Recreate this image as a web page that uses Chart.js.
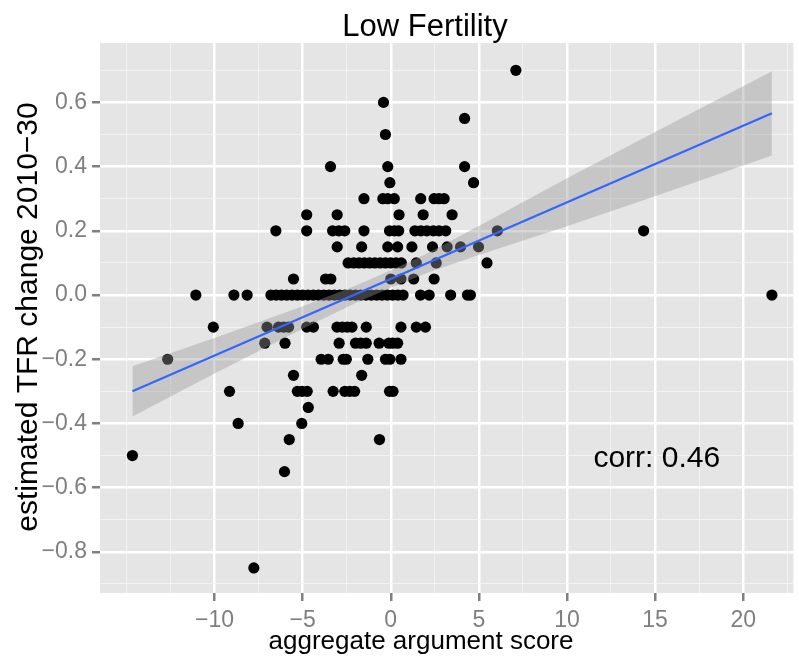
<!DOCTYPE html>
<html>
<head>
  <title>Low Fertility</title>
  <script src="https://cdn.jsdelivr.net/npm/chart.js"></script>
  <style>
    html, body { margin: 0; padding: 0; background: #fff; }
  </style>
</head>
<body>
<canvas id="myChart" width="799" height="657"></canvas>
<script>
// text
const chartTitle = 'Low Fertility';
const xTitle = 'aggregate argument score';
const yTitle = 'estimated TFR change 2010\u221230';
const corrText = 'corr: 0.46';
const corrPos = { x: 11.5, y: -0.536 };

// scatter: each row is one TFR change value, with the argument scores seen at it
const rowValues = [0.7, 0.6, 0.55, 0.5, 0.4, 0.35, 0.3, 0.25, 0.2, 0.15, 0.1, 0.05, 0,
  -0.1, -0.15, -0.2, -0.25, -0.3, -0.35, -0.4, -0.45, -0.5, -0.55, -0.85];
const rowScores = [
  [7.1],
  [-0.41],
  [4.19],
  [-0.3],
  [-3.42, -0.17, 4.19],
  [-0.05, 4.7],
  [-1.52, -0.45, -0.17, 0.2, 1.7, 2.46, 2.74, 3.03],
  [-4.77, -3.04, 0.47, 1.84, 3.48],
  [-6.52, -4.77, -3.3, -2.95, -2.61, -1.52, -0.07, 0.21, 0.45, 1.37, 1.71, 2.05, 2.42, 2.74, 3.12, 6.05, 14.35],
  [-3.04, -1.65, -0.17, 0.39, 1.2, 2.37, 3.2, 3.96, 4.98],
  [-2.42, -2.1, -1.8, -1.5, -1.2, -0.9, -0.6, -0.3, 0.0, 0.3, 0.6, 1.45, 2.58, 5.46],
  [-5.52, -3.7, -3.4, 0.0, 0.58, 1.3, 2.46],
  [-11.06, -8.9, -8.15, -6.8, -6.5, -6.2, -5.9, -5.6, -5.3, -5.0, -4.7, -4.4, -4.1, -3.8, -3.5,
   -3.2, -2.9, -2.6, -2.3, -2.0, -1.7, -1.4, -1.1, -0.8, -0.5, -0.2, 0.1, 0.4, 0.7,
   1.69, 2.18, 3.4, 4.35, 4.52, 21.63],
  [-10.07, -7.02, -6.37, -6.08, -5.8, -4.77, -4.39, -3.05, -2.75, -2.47, -2.2, -1.39, 0.58, 1.45, 1.97],
  [-7.15, -6.0, -2.93, -2.0, -1.7, -1.39, -0.66, -0.11, 0.11, 0.39],
  [-12.66, -3.95, -3.55, -2.7, -2.52, -1.3, -0.3, -0.05, 0.58],
  [-5.52, -1.65],
  [-9.15, -5.3, -5.03, -4.74, -3.27, -2.61, -2.33, -2.05, -0.07, 0.13],
  [-4.68],
  [-8.66, -5.05],
  [-5.76, -0.64],
  [-14.66],
  [-6.03],
  [-7.77]
];

// linear fit and its confidence band
const fitX = [-14.66, 21.63];
const fitY = [-0.30, 0.566];
const bandX = [-14.66, -10, -5, -2, 0, 2, 5, 10, 15, 21.63];
const bandUpper = [-0.222, -0.134, -0.035, 0.029, 0.077, 0.128, 0.215, 0.364, 0.508, 0.697];
const bandLower = [-0.378, -0.244, -0.105, -0.025, 0.023, 0.068, 0.125, 0.214, 0.308, 0.435];

// axes
const xGrid = [-15, -12.5, -10, -7.5, -5, -2.5, 0, 2.5, 5, 7.5, 10, 12.5, 15, 17.5, 20, 22.5];
const xMajor = [-10, -5, 0, 5, 10, 15, 20];
const xTickLabels = ['\u221210', '\u22125', '0', '5', '10', '15', '20'];
const yGrid = [-0.9, -0.8, -0.7, -0.6, -0.5, -0.4, -0.3, -0.2, -0.1, 0, 0.1, 0.2, 0.3, 0.4, 0.5, 0.6, 0.7];
const yMajor = [-0.8, -0.6, -0.4, -0.2, 0, 0.2, 0.4, 0.6];
const yTickLabels = ['\u22120.8', '\u22120.6', '\u22120.4', '\u22120.2', '0.0', '0.2', '0.4', '0.6'];

const points = [];
rowValues.forEach((v, i) => rowScores[i].forEach(s => points.push({ x: s, y: v })));
const fitData = fitX.map((x, i) => ({ x: x, y: fitY[i] }));
const upperData = bandX.map((x, i) => ({ x: x, y: bandUpper[i] }));
const lowerData = bandX.map((x, i) => ({ x: x, y: bandLower[i] }));

const majorIndex = (list, v) => list.findIndex(m => Math.abs(m - v) < 1e-6);
const FONT = '"Liberation Sans", Arial, sans-serif';

const panelPlugin = {
  id: 'panel',
  beforeDraw(chart) {
    const { ctx, chartArea: a } = chart;
    ctx.save();
    ctx.fillStyle = '#E5E5E5';
    ctx.fillRect(a.left, a.top, a.right - a.left, a.bottom - a.top);
    ctx.restore();
  },
  afterDraw(chart) {
    const ctx = chart.ctx;
    ctx.save();
    ctx.fillStyle = '#000';
    ctx.textBaseline = 'alphabetic';
    ctx.textAlign = 'center';
    ctx.font = '31px ' + FONT;
    ctx.fillText(chartTitle, 425, 36);
    ctx.font = '26px ' + FONT;
    ctx.fillText(xTitle, 421, 649);
    ctx.save();
    ctx.translate(37, 317);
    ctx.rotate(-Math.PI / 2);
    ctx.font = '30px ' + FONT;
    ctx.fillText(yTitle, 0, 0);
    ctx.restore();
    ctx.textAlign = 'left';
    ctx.font = '30px ' + FONT;
    ctx.fillText(corrText, chart.scales.x.getPixelForValue(corrPos.x), chart.scales.y.getPixelForValue(corrPos.y));
    ctx.restore();
  }
};

const ctx = document.getElementById('myChart').getContext('2d');
const myChart = new Chart(ctx, {
  type: 'scatter',
  data: {
    datasets: [
      { label: 'fit', data: fitData, showLine: true, borderColor: '#3366FF', borderWidth: 2.2,
        pointRadius: 0, fill: false, order: 0 },
      { label: 'upper', data: upperData, showLine: true, borderColor: 'rgba(0,0,0,0)', borderWidth: 0,
        pointRadius: 0, fill: '+1', backgroundColor: 'rgba(153,153,153,0.4)', order: 1 },
      { label: 'lower', data: lowerData, showLine: true, borderColor: 'rgba(0,0,0,0)', borderWidth: 0,
        pointRadius: 0, fill: false, order: 2 },
      { label: 'points', data: points, pointRadius: 5.6, backgroundColor: '#000', borderWidth: 0,
        pointHoverRadius: 5.6, order: 3 }
    ]
  },
  options: {
    responsive: false,
    animation: false,
    devicePixelRatio: 1,
    layout: { padding: { left: 0, right: 0, top: 43, bottom: 0 } },
    plugins: { legend: { display: false }, tooltip: { enabled: false }, title: { display: false } },
    scales: {
      x: {
        type: 'linear',
        min: -16.5,
        max: 22.85,
        afterBuildTicks: s => { s.ticks = xGrid.map(v => ({ value: v })); },
        afterFit: s => { s.height = 64; },
        border: { display: false },
        grid: {
          color: c => majorIndex(xMajor, c.tick.value) >= 0 ? '#FFFFFF' : '#F2F2F2',
          lineWidth: c => majorIndex(xMajor, c.tick.value) >= 0 ? 2.5 : 1.1,
          tickColor: c => majorIndex(xMajor, c.tick.value) >= 0 ? '#7F7F7F' : 'rgba(0,0,0,0)',
          tickWidth: 2.5,
          tickLength: 8
        },
        ticks: {
          autoSkip: false,
          maxRotation: 0,
          padding: 6,
          color: '#7F7F7F',
          font: { size: 23, family: FONT },
          callback: v => { const i = majorIndex(xMajor, v); return i >= 0 ? xTickLabels[i] : ''; }
        }
      },
      y: {
        type: 'linear',
        min: -0.928,
        max: 0.785,
        afterBuildTicks: s => { s.ticks = yGrid.map(v => ({ value: v })); },
        afterFit: s => { s.width = 100; },
        border: { display: false },
        grid: {
          color: c => majorIndex(yMajor, c.tick.value) >= 0 ? '#FFFFFF' : '#F2F2F2',
          lineWidth: c => majorIndex(yMajor, c.tick.value) >= 0 ? 2.5 : 1.1,
          tickColor: c => majorIndex(yMajor, c.tick.value) >= 0 ? '#7F7F7F' : 'rgba(0,0,0,0)',
          tickWidth: 2.5,
          tickLength: 8
        },
        ticks: {
          autoSkip: false,
          padding: 5,
          color: '#7F7F7F',
          font: { size: 23, family: FONT },
          callback: v => { const i = majorIndex(yMajor, v); return i >= 0 ? yTickLabels[i] : ''; }
        }
      }
    }
  },
  plugins: [panelPlugin]
});
</script>
</body>
</html>
